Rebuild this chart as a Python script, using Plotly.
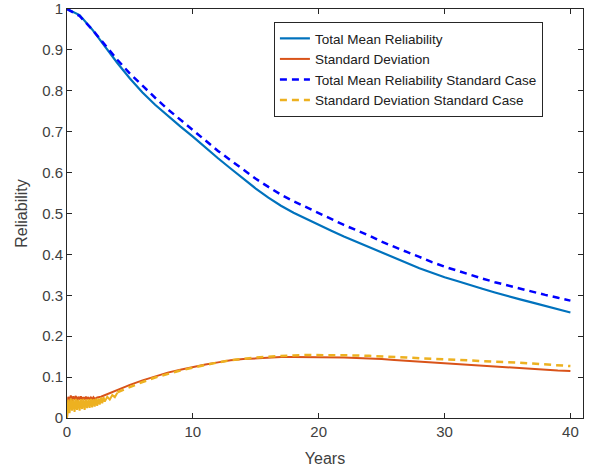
import plotly.graph_objects as go

# ---- data ----
years = [0, 1, 2, 3, 4, 5, 6, 7, 8, 9, 10, 11, 12, 13, 14, 15, 16, 17, 18, 19, 20,
         21, 22, 23, 24, 25, 26, 27, 28, 29, 30, 31, 32, 33, 34, 35, 36, 37, 38, 39, 40]

mean_rel = [1.000, 0.985, 0.950, 0.908, 0.868, 0.830, 0.796, 0.766, 0.739, 0.713, 0.688,
            0.661, 0.635, 0.610, 0.585, 0.561, 0.539, 0.519, 0.502, 0.487, 0.473,
            0.458, 0.444, 0.431, 0.418, 0.405, 0.391, 0.378, 0.366, 0.355, 0.344,
            0.335, 0.325, 0.316, 0.307, 0.298, 0.290, 0.282, 0.274, 0.266, 0.258]

mean_rel_std_case = [1.000, 0.983, 0.950, 0.912, 0.876, 0.842, 0.812, 0.783, 0.755, 0.729, 0.704,
                     0.678, 0.653, 0.630, 0.607, 0.585, 0.565, 0.546, 0.530, 0.515, 0.500,
                     0.486, 0.472, 0.459, 0.446, 0.431, 0.418, 0.406, 0.394, 0.381, 0.370,
                     0.360, 0.350, 0.341, 0.332, 0.324, 0.316, 0.308, 0.301, 0.294, 0.287]

# standard deviation: noisy start, then smooth
sd_years = [0, 0.1, 0.2, 0.3, 0.4, 0.5, 0.6, 0.7, 0.8, 0.9, 1.0, 1.1, 1.2, 1.3, 1.4, 1.5,
            1.6, 1.7, 1.8, 1.9, 2.0, 2.1, 2.2, 2.4, 2.7,
            3, 4, 5, 6, 7, 8, 9, 10, 11, 12, 13, 14, 15, 16, 17, 18, 19, 20,
            21, 22, 23, 24, 25, 26, 27, 28, 29, 30, 31, 32, 33, 34, 35, 36, 37, 38, 39, 40]
sd_values = [0.000, 0.052, 0.038, 0.055, 0.042, 0.053, 0.044, 0.054, 0.043, 0.052, 0.045,
             0.053, 0.044, 0.051, 0.045, 0.052, 0.046, 0.051, 0.045, 0.050, 0.046, 0.051,
             0.047, 0.050, 0.052,
             0.056, 0.068, 0.081, 0.092, 0.102, 0.111, 0.118, 0.125, 0.131, 0.136, 0.141,
             0.144, 0.146, 0.148, 0.149, 0.149, 0.149, 0.149, 0.149, 0.148, 0.147, 0.146,
             0.144, 0.142, 0.140, 0.137, 0.135, 0.133, 0.131, 0.129, 0.127, 0.125, 0.124,
             0.122, 0.120, 0.118, 0.116, 0.115]

# standard case std: noisy start segment
sdc_early_years = [0, 0.1, 0.2, 0.3, 0.4, 0.5, 0.6, 0.7, 0.8, 0.9, 1.0, 1.1, 1.2, 1.3, 1.4,
                   1.5, 1.6, 1.7, 1.8, 1.9, 2.0, 2.1, 2.2, 2.3, 2.4, 2.5, 2.6, 2.7, 2.8, 2.9,
                   3.0, 3.2, 3.4, 3.6, 3.8, 4.0]
sdc_early_values = [0.000, 0.045, 0.012, 0.048, 0.018, 0.046, 0.015, 0.047, 0.020, 0.045,
                    0.018, 0.046, 0.022, 0.047, 0.020, 0.045, 0.024, 0.046, 0.025, 0.047,
                    0.026, 0.046, 0.028, 0.047, 0.030, 0.048, 0.033, 0.050, 0.036, 0.051,
                    0.040, 0.052, 0.045, 0.056, 0.051, 0.062]
sdc_years = [4, 5, 6, 7, 8, 9, 10, 11, 12, 13, 14, 15, 16, 17, 18, 19, 20,
             21, 22, 23, 24, 25, 26, 27, 28, 29, 30, 31, 32, 33, 34, 35, 36, 37, 38, 39, 40]
sdc_values = [0.063, 0.076, 0.088, 0.099, 0.108, 0.116, 0.123, 0.130, 0.136, 0.141, 0.145,
              0.148, 0.150, 0.152, 0.153, 0.154, 0.154, 0.154, 0.153, 0.153, 0.152, 0.151,
              0.149, 0.148, 0.146, 0.145, 0.144, 0.142, 0.141, 0.139, 0.138, 0.136, 0.135,
              0.133, 0.131, 0.129, 0.127]

x_ticks = [0, 10, 20, 30, 40]
y_ticks = [0, 0.1, 0.2, 0.3, 0.4, 0.5, 0.6, 0.7, 0.8, 0.9, 1]
y_tick_text = ["0", "0.1", "0.2", "0.3", "0.4", "0.5", "0.6", "0.7", "0.8", "0.9", "1"]

names = ["Total Mean Reliability", "Standard Deviation",
         "Total Mean Reliability Standard Case", "Standard Deviation Standard Case"]

C_BLUE = "#0072BD"
C_ORANGE = "#D95319"
C_DBLUE = "#0000FF"
C_YELLOW = "#EDB120"

fig = go.Figure()
fig.add_trace(go.Scatter(x=years, y=mean_rel, mode="lines", name=names[0],
                         line=dict(color=C_BLUE, width=2.2)))
fig.add_trace(go.Scatter(x=sd_years, y=sd_values, mode="lines", name=names[1],
                         line=dict(color=C_ORANGE, width=2)))
fig.add_trace(go.Scatter(x=years, y=mean_rel_std_case, mode="lines", name=names[2],
                         line=dict(color=C_DBLUE, width=2.5, dash="7px,5px")))
fig.add_trace(go.Scatter(x=sdc_early_years, y=sdc_early_values, mode="lines",
                         showlegend=False, hoverinfo="skip",
                         line=dict(color=C_YELLOW, width=2)))
fig.add_trace(go.Scatter(x=sdc_years, y=sdc_values, mode="lines", name=names[3],
                         line=dict(color=C_YELLOW, width=2.5, dash="7px,5px")))

axis_common = dict(showline=True, linecolor="#262626", linewidth=1, mirror="ticks",
                   ticks="inside", ticklen=5, tickcolor="#262626", showgrid=False,
                   zeroline=False, automargin=False,
                   tickfont=dict(size=15, color="#404040"))

fig.update_xaxes(range=[0, 41], tickvals=x_ticks,
                 title=dict(text="Years", font=dict(size=16, color="#404040"), standoff=13),
                 **axis_common)
fig.update_yaxes(range=[0, 1], tickvals=y_ticks, ticktext=y_tick_text,
                 title=dict(text="Reliability", font=dict(size=16, color="#404040"), standoff=10),
                 **axis_common)

fig.update_layout(
    width=590, height=470,
    margin=dict(l=67, r=7, t=9, b=52),
    paper_bgcolor="white", plot_bgcolor="white",
    font=dict(family="Liberation Sans, Arial, sans-serif"),
    legend=dict(x=0.401, y=0.968, xanchor="left", yanchor="top",
                bgcolor="white", bordercolor="#262626", borderwidth=1,
                font=dict(size=13.5, color="#202020"), tracegroupgap=0),
    showlegend=True,
)

fig.write_html("out.html", config={"displayModeBar": False},
               post_script="document.body.style.margin='0';document.body.style.overflow='hidden';")
